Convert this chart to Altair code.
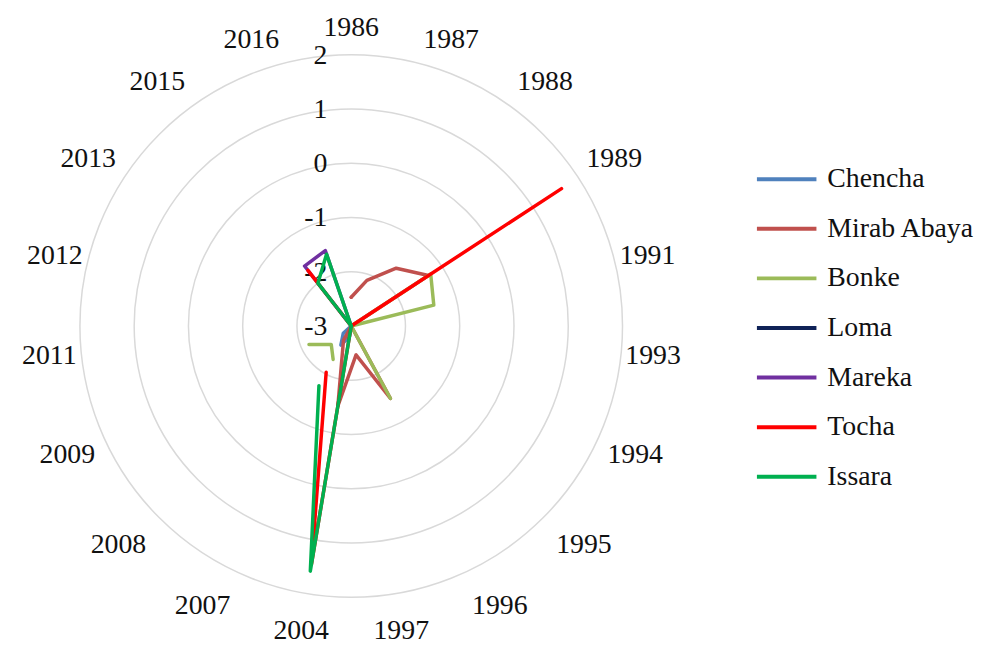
import altair as alt
import pandas as pd

# ---------------- data ----------------
years = ["1986", "1987", "1988", "1989", "1991", "1993", "1994", "1995", "1996", "1997",
         "2004", "2007", "2008", "2009", "2011", "2012", "2013", "2015", "2016"]

series_names = ["Chencha", "Mirab Abaya", "Bonke", "Loma", "Mareka", "Tocha", "Issara"]
series_colors = ["#4F81BD", "#C0504D", "#9BBB59", "#0F2257", "#7030A0", "#FF0000", "#00B050"]

#            1986   1987   1988   1989   1991   1993   1994   1995   1996   1997   2004   2007   2008   2009   2011   2012   2013   2015   2016
chencha = [-3.0,  -3.0,  -3.0,  -3.0,  -3.0,  -3.0,  -3.0,  -3.0,  -3.0,  -3.0,  -2.8,  -2.6,  -2.8,  -3.0,  -3.0,  -3.0,  -3.0,  -3.0,  -3.0]
mirab   = [-2.47, -2.11, -1.65, -1.3,  -3.0,  -3.0,  -3.0,  -3.0,  -1.48, -2.46, -1.5,  -2.7,  -3.0,  -3.0,  -3.0,  -3.0,  -3.0,  -3.0,  None]
bonke   = [-3.0,  -3.0,  -3.0,  -1.25, -1.43, -3.0,  -3.0,  -3.0,  -1.48, -3.0,  None,  -2.3,  -2.5,  -2.15, None,  -3.0,  -3.0,  -3.0,  -3.0]
loma    = [-3.0,  -3.0,  -3.0,  -3.0,  -3.0,  -3.0,  -3.0,  -3.0,  -3.0,  -3.0,  -3.0,  -3.0,  -3.0,  -3.0,  -3.0,  -3.0,  -3.0,  -3.0,  -3.0]
mareka  = [-3.0,  -3.0,  -3.0,  -3.0,  -3.0,  -3.0,  -3.0,  -3.0,  -3.0,  -3.0,  -3.0,  -3.0,  -3.0,  -3.0,  -3.0,  -3.0,  -3.0,  -1.6,  -1.53]
tocha   = [-3.0,  -3.0,  -3.0,  1.63,  -3.0,  -3.0,  -3.0,  -3.0,  -3.0,  -3.0,  1.45,  -2.03, None,  None,  None,  -3.0,  -3.0,  -1.7,  -3.0]
issara  = [-3.0,  -3.0,  -3.0,  -3.0,  -3.0,  -3.0,  -3.0,  -3.0,  -3.0,  -3.0,  1.58,  -1.75, None,  None,  None,  -3.0,  -3.0,  -2.0,  -1.6]

ring_values = [-2, -1, 0, 1, 2]
tick_values = [-3, -2, -1, 0, 1, 2]
axis_min = -3

# ---------------- tables ----------------
N = len(years)
all_series = [chencha, mirab, bonke, loma, mareka, tocha, issara]

rows = []
for name, vals in zip(series_names, all_series):
    seg = 0
    for k, i in enumerate(list(range(N)) + [0]):
        v = vals[i]
        if v is None:
            seg += 1
            continue
        rows.append({"series": name, "seg": f"{name}-{seg}", "ord": k, "idx": i, "value": v})
series_df = pd.DataFrame(rows)

ring_df = pd.DataFrame({"ring": [str(r) for r in ring_values], "value": ring_values})
label_df = pd.DataFrame({"year": years, "idx": list(range(N))})
tick_df = pd.DataFrame({"tick": [str(t) for t in tick_values], "value": tick_values})

# ---------------- geometry ----------------
W, H = 994, 637
CX, CY = 346, 318
UNIT = 54.7

xscale = alt.Scale(domain=[-CX / UNIT, (W - CX) / UNIT], nice=False, zero=False)
yscale = alt.Scale(domain=[-(H - CY) / UNIT, CY / UNIT], nice=False, zero=False)

ang = f"2*PI*datum.idx/{N}"
polar = dict(
    px=f"(datum.value-({axis_min}))*sin({ang})",
    py=f"(datum.value-({axis_min}))*cos({ang})",
)

X = alt.X("px:Q", scale=xscale, axis=None)
Y = alt.Y("py:Q", scale=yscale, axis=None)

# concentric gridline circles centred on the pole (Vega symbol size = bounding-box area)
rings = alt.Chart(ring_df).transform_calculate(
    px="0", py="0",
    area=f"pow(2*(datum.value-({axis_min}))*{UNIT}, 2)",
).mark_point(
    shape="circle", filled=False, color="#d9d9d9", strokeWidth=1.5, opacity=1
).encode(x=X, y=Y, size=alt.Size("area:Q", scale=None, legend=None))

ticks = alt.Chart(tick_df).transform_calculate(
    px=f"-24/{UNIT}", py=f"datum.value-({axis_min})"
).mark_text(
    font="Liberation Serif", fontSize=28, color="#111111", align="right", baseline="middle", dy=1
).encode(x=X, y=Y, text="tick:N")

labels = alt.Chart(label_df).transform_calculate(
    a=ang,
).transform_calculate(
    lr=f"(305 + 14*pow(sin(2*datum.a), 2))/{UNIT}",
).transform_calculate(
    px="datum.lr*sin(datum.a)", py="datum.lr*cos(datum.a)"
).mark_text(
    font="Liberation Serif", fontSize=28, color="#111111", align="center", baseline="middle", dy=5
).encode(x=X, y=Y, text="year:N")

color = alt.Color(
    "series:N",
    scale=alt.Scale(domain=series_names, range=series_colors),
    legend=alt.Legend(title=None),
)

base = alt.Chart(series_df).transform_calculate(**polar)
layers = [rings, ticks, labels]
for name in series_names:
    layers.append(
        base.transform_filter(alt.datum.series == name).mark_line(
            strokeWidth=3.5, strokeCap="round", strokeJoin="round"
        ).encode(x=X, y=Y, detail="seg:N", order="ord:Q", color=color)
    )

chart = alt.layer(*layers).properties(
    width=W, height=H, autosize=alt.AutoSizeParams(type="none"), padding=0
).configure_view(stroke="transparent").configure_legend(
    orient="none", legendX=753, legendY=138,
    symbolType="stroke", symbolSize=3600, symbolStrokeWidth=4,
    labelFont="Liberation Serif", labelFontSize=28, labelColor="#111111",
    labelOffset=9, rowPadding=4, padding=0, labelLimit=300,
)

chart.save("out.html", embed_options={"renderer": "svg", "actions": False})
